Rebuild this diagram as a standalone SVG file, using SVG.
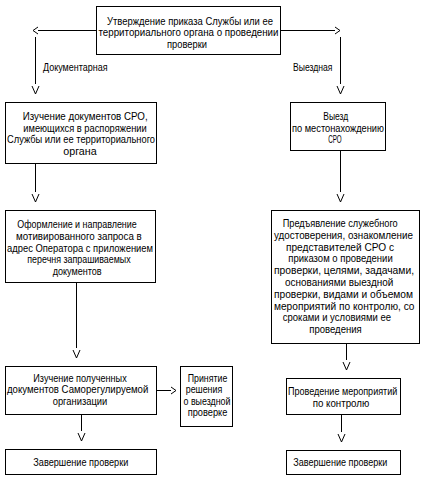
<svg xmlns="http://www.w3.org/2000/svg" width="421" height="485" viewBox="0 0 421 485">
<style>
  .box { fill: #fff; stroke: #000; stroke-width: 1; shape-rendering: crispEdges; }
  .t { font-family: "Liberation Sans", "DejaVu Sans", sans-serif; font-size: 11px; fill: #000; }
  .s { font-size: 10px; }
  .c { fill: none; stroke: #000; stroke-width: 1; shape-rendering: crispEdges; }
</style>
<defs>
  <marker id="chev" markerUnits="userSpaceOnUse" orient="auto" markerWidth="12" markerHeight="12" refX="0" refY="0" viewBox="-1 -5 12 10" overflow="visible">
    <path d="M0,-3.5 L5,0 L0,3.5" fill="none" stroke="#000" stroke-width="1"/>
  </marker>
  <marker id="vee" markerUnits="userSpaceOnUse" orient="auto" markerWidth="14" markerHeight="12" refX="0" refY="0" viewBox="-1 -5 14 10" overflow="visible">
    <path d="M2,-3.5 L10,0 L2,3.5" fill="none" stroke="#000" stroke-width="1"/>
  </marker>
</defs>
<rect width="421" height="485" fill="#fff"/>

<g id="connectors">
  <line class="c" x1="96" y1="30.5" x2="38" y2="30.5" marker-end="url(#chev)"/>
  <line class="c" x1="281" y1="30.5" x2="335" y2="30.5" marker-end="url(#chev)"/>
  <line class="c" x1="35.5" y1="37" x2="35.5" y2="84" marker-end="url(#vee)"/>
  <line class="c" x1="340.5" y1="37" x2="340.5" y2="84" marker-end="url(#vee)"/>
  <line class="c" x1="35.5" y1="163" x2="35.5" y2="192" marker-end="url(#vee)"/>
  <line class="c" x1="340.5" y1="150" x2="340.5" y2="192" marker-end="url(#vee)"/>
  <line class="c" x1="76.5" y1="282" x2="76.5" y2="348" marker-end="url(#vee)"/>
  <line class="c" x1="346.5" y1="343" x2="346.5" y2="360" marker-end="url(#vee)"/>
  <line class="c" x1="156" y1="390.5" x2="171" y2="390.5" marker-end="url(#chev)"/>
  <line class="c" x1="81.5" y1="414" x2="81.5" y2="431" marker-end="url(#vee)"/>
  <line class="c" x1="341.5" y1="414" x2="341.5" y2="432" marker-end="url(#vee)"/>
  <text class="t" x="43" y="71" textLength="64.5" lengthAdjust="spacingAndGlyphs">Документарная</text>
  <text class="t" x="293" y="71" textLength="39.5" lengthAdjust="spacingAndGlyphs">Выездная</text>
</g>

<g id="n-order">
  <rect class="box" x="96.5" y="6.5" width="184" height="48"/>
  <text class="t" x="107" y="24.5" textLength="166" lengthAdjust="spacingAndGlyphs">Утверждение приказа Службы или ее</text>
  <text class="t" x="98.5" y="36" textLength="180" lengthAdjust="spacingAndGlyphs">территориального органа о проведении</text>
  <text class="t" x="167" y="47.5" textLength="40" lengthAdjust="spacingAndGlyphs">проверки</text>
</g>

<g id="n-study">
  <rect class="box" x="5.5" y="102.5" width="151" height="61"/>
  <text class="t" x="22.7" y="120" textLength="125" lengthAdjust="spacingAndGlyphs">Изучение документов СРО,</text>
  <text class="t" x="23.3" y="131.5" textLength="123.4" lengthAdjust="spacingAndGlyphs">имеющихся в распоряжении</text>
  <text class="t" x="7" y="143" textLength="148" lengthAdjust="spacingAndGlyphs">Службы или ее территориального</text>
  <text class="t" x="63.3" y="154.5" textLength="33.4" lengthAdjust="spacingAndGlyphs">органа</text>
</g>

<g id="n-visit">
  <rect class="box" x="290.5" y="102.5" width="95" height="48"/>
  <text class="t" x="323.3" y="120" textLength="25" lengthAdjust="spacingAndGlyphs">Выезд</text>
  <text class="t" x="292" y="131.5" textLength="92" lengthAdjust="spacingAndGlyphs">по местонахождению</text>
  <text class="t" x="328.3" y="143" textLength="13.4" lengthAdjust="spacingAndGlyphs">СРО</text>
</g>

<g id="n-request">
  <rect class="box" x="5.5" y="210.5" width="150" height="72"/>
  <text class="t" x="17.3" y="228" textLength="119.4" lengthAdjust="spacingAndGlyphs">Оформление и направление</text>
  <text class="t" x="16" y="239.8" textLength="125.7" lengthAdjust="spacingAndGlyphs">мотивированного запроса в</text>
  <text class="t" x="7" y="251.5" textLength="146" lengthAdjust="spacingAndGlyphs">адрес Оператора с приложением</text>
  <text class="t" x="27.3" y="263.3" textLength="103.4" lengthAdjust="spacingAndGlyphs">перечня запрашиваемых</text>
  <text class="t" x="52.7" y="275" textLength="49" lengthAdjust="spacingAndGlyphs">документов</text>
</g>

<g id="n-present">
  <rect class="box" x="271.5" y="210.5" width="148" height="133"/>
  <text class="t s" x="282.7" y="227" textLength="115" lengthAdjust="spacingAndGlyphs">Предъявление служебного</text>
  <text class="t s" x="274" y="238.8" textLength="139" lengthAdjust="spacingAndGlyphs">удостоверения, ознакомление</text>
  <text class="t s" x="286" y="250.6" textLength="108" lengthAdjust="spacingAndGlyphs">представителей СРО с</text>
  <text class="t s" x="288.3" y="262.4" textLength="104.4" lengthAdjust="spacingAndGlyphs">приказом о проведении</text>
  <text class="t s" x="274" y="274.2" textLength="140" lengthAdjust="spacingAndGlyphs">проверки, целями, задачами,</text>
  <text class="t s" x="285" y="286" textLength="108.3" lengthAdjust="spacingAndGlyphs">основаниями выездной</text>
  <text class="t s" x="274" y="297.8" textLength="139" lengthAdjust="spacingAndGlyphs">проверки, видами и объемом</text>
  <text class="t s" x="274" y="309.6" textLength="140.5" lengthAdjust="spacingAndGlyphs">мероприятий по контролю, со</text>
  <text class="t s" x="282.7" y="321.4" textLength="108.3" lengthAdjust="spacingAndGlyphs">сроками и условиями ее</text>
  <text class="t s" x="309.3" y="333.2" textLength="52.4" lengthAdjust="spacingAndGlyphs">проведения</text>
</g>

<g id="n-received">
  <rect class="box" x="5.5" y="366.5" width="151" height="48"/>
  <text class="t" x="33.3" y="381.5" textLength="93.4" lengthAdjust="spacingAndGlyphs">Изучение полученных</text>
  <text class="t" x="7" y="393" textLength="141.3" lengthAdjust="spacingAndGlyphs">документов Саморегулируемой</text>
  <text class="t" x="52.7" y="404.5" textLength="54.6" lengthAdjust="spacingAndGlyphs">организации</text>
</g>

<g id="n-decision">
  <rect class="box" x="180.5" y="366.5" width="52" height="60"/>
  <text class="t" x="187.7" y="381.5" textLength="39.6" lengthAdjust="spacingAndGlyphs">Принятие</text>
  <text class="t" x="185.7" y="393" textLength="36.6" lengthAdjust="spacingAndGlyphs">решения</text>
  <text class="t" x="183.5" y="404.5" textLength="47" lengthAdjust="spacingAndGlyphs">о выездной</text>
  <text class="t" x="187.7" y="416" textLength="39.6" lengthAdjust="spacingAndGlyphs">проверке</text>
</g>

<g id="n-control">
  <rect class="box" x="286.5" y="378.5" width="114" height="36"/>
  <text class="t" x="288" y="395" textLength="109.3" lengthAdjust="spacingAndGlyphs">Проведение мероприятий</text>
  <text class="t" x="312.7" y="406.5" textLength="56.6" lengthAdjust="spacingAndGlyphs">по контролю</text>
</g>

<g id="n-end-left">
  <rect class="box" x="5.5" y="449.5" width="151" height="25"/>
  <text class="t" x="33.3" y="466" textLength="95" lengthAdjust="spacingAndGlyphs">Завершение проверки</text>
</g>

<g id="n-end-right">
  <rect class="box" x="286.5" y="450.5" width="114" height="24"/>
  <text class="t" x="293.3" y="466" textLength="94" lengthAdjust="spacingAndGlyphs">Завершение проверки</text>
</g>
</svg>
